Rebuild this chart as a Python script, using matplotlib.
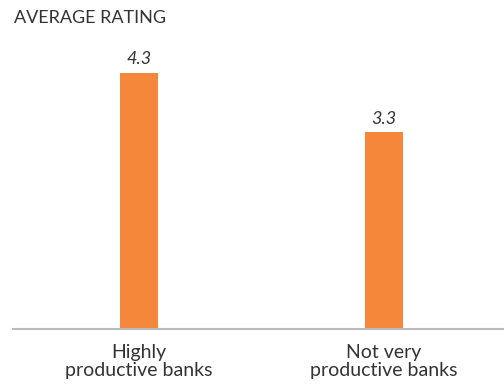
import numpy as np
import matplotlib.pyplot as plt

plt.rcParams['font.family'] = ['Lato', 'DejaVu Sans']

# 数据
categories = ['Highly\nproductive banks', 'Not very\nproductive banks']
ratings = [4.3, 3.3]

fig = plt.figure(figsize=(5.04, 3.86), dpi=100)
ax = fig.add_axes([13 / 504, 1 - 329 / 386, 491 / 504, 289 / 386])

x = np.arange(len(categories))
bars = ax.bar(x, ratings, width=0.155, color='#F5873A', zorder=2)

# 数值标签
for bar, v in zip(bars, ratings):
    ax.text(bar.get_x() + bar.get_width() / 2, v + 0.09, f'{v:.1f}',
            ha='center', va='bottom', fontsize=13, style='italic', color='#333333')

ax.set_xlim(-0.514, 1.49)
ax.set_ylim(0, 4.85)
ax.set_xticks(x)
ax.set_xticklabels(categories, fontsize=14, color='#333333', linespacing=1.05)
ax.tick_params(axis='x', length=0, pad=11)
ax.set_yticks([])

for s in ['top', 'right', 'left']:
    ax.spines[s].set_visible(False)
ax.spines['bottom'].set_color('#BBBBBB')
ax.spines['bottom'].set_linewidth(1.5)

fig.text(14 / 504, 1 - 18 / 386, 'AVERAGE RATING', fontsize=13, color='#333333',
         ha='left', va='center')

plt.savefig('out.png', dpi=100)
plt.close()
